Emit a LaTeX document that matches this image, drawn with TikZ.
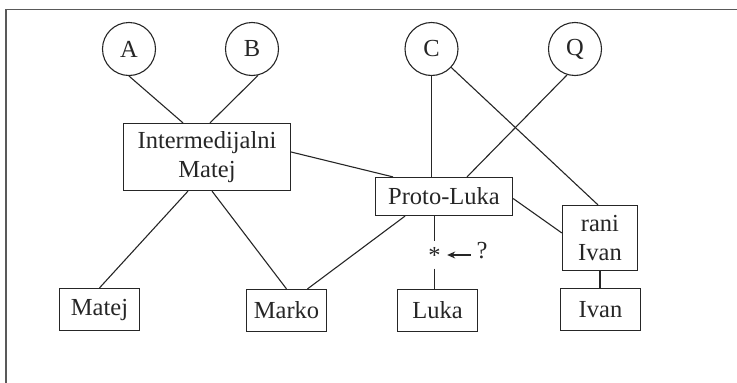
\documentclass[tikz,border=0pt]{standalone}
\usepackage{fontspec}
\setmainfont{Liberation Serif}
\usetikzlibrary{arrows.meta}

\begin{document}
\begin{tikzpicture}[x=1pt,y=-1pt,
  font=\fontsize{24.5}{29}\selectfont,
  line width=1.1pt, color=black!85,
  frame/.style={draw=black!65, line width=1.8pt},
  src/.style={draw, circle, inner sep=0pt, minimum size=53pt},
  box/.style={draw, rectangle, align=center, inner sep=0pt, line width=1.2pt},
  leaf/.style={box, minimum width=80pt, minimum height=42pt},
  link/.style={line width=1.1pt},
  arr/.style={line width=1.2pt, {Stealth[length=8pt,width=7pt]}-}]
\useasboundingbox (0,0) rectangle (737,383);

% frame around the figure
\draw[frame] (737,9.5) -- (6,9.5) -- (6,383);

% source documents
\node[src] (A) at (129,49) {A};
\node[src] (B) at (252,49) {B};
\node[src] (C) at (431.5,49) {C};
\node[src] (Q) at (575,49) {Q};

% intermediate stages
\node[box, minimum width=167pt, minimum height=67pt] (im) at (207,157) {Intermedijalni\\Matej};
\node[box, minimum width=137pt, minimum height=38pt] (pl) at (444,196.5) {Proto-Luka};
\node[box, minimum width=75pt, minimum height=65pt] (ri) at (600,238) {rani\\Ivan};

% the four gospels
\node[leaf] (mt) at (99.5,309.5) {Matej};
\node[leaf] (mk) at (286.5,310.5) {Marko};
\node[leaf] (lk) at (437.5,310.5) {Luka};
\node[leaf] (iv) at (600.5,309.5) {Ivan};

% unknown intermediate between Proto-Luka and Luka
\node[inner sep=0pt, text height=17pt, text depth=0pt, minimum height=26pt] (st) at (434.5,255) {*};
\node[inner sep=0pt] (qm) at (482,251) {?};

% connections
\draw[link] (A.-90) -- ([xshift=-24pt]im.north);
\draw[link] (B.-77) -- ([xshift=3pt]im.north);
\draw[link] ([xshift=-19pt]im.south) -- (mt.north);
\draw[link] ([xshift=5pt]im.south) -- (mk.north);
\draw[link] ([yshift=5pt]im.east) -- ([xshift=-51pt]pl.north);
\draw[link] (C.south) -- (C.south |- pl.north);
\draw[link] (Q.-107) -- ([xshift=23pt]pl.north);
\draw[link] (C) -- ([xshift=-2pt]ri.north);
\draw[link] ([yshift=-2pt]pl.east) -- ([yshift=5pt]ri.west);
\draw[link] ([xshift=-39pt]pl.south) -- ([xshift=21pt]mk.north);
\draw[link] (st.north |- pl.south) -- (st.north);
\draw[link] (st.south) -- (st.south |- lk.north);
\draw[link] (ri.south) -- (ri.south |- iv.north);
\draw[arr, shorten <=6pt, shorten >=5pt] (st.east) -- (st.east -| qm.west);
\end{tikzpicture}
\end{document}
